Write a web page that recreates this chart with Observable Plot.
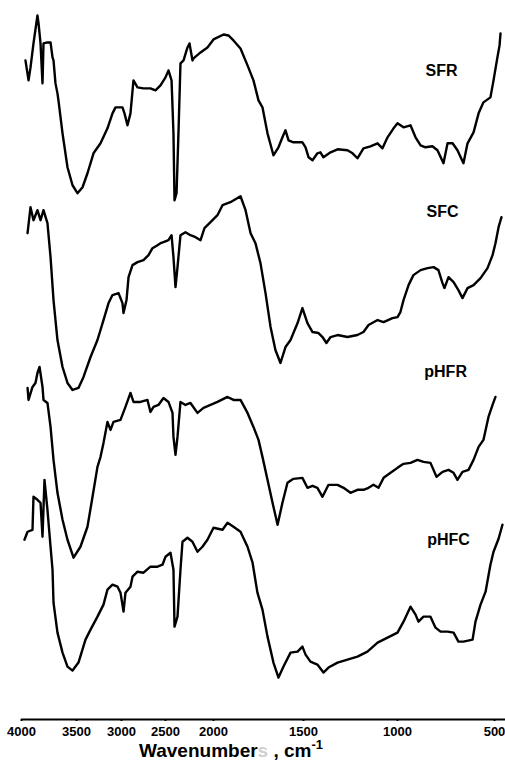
<!DOCTYPE html>
<html><head><meta charset="utf-8">
<script src="https://cdn.jsdelivr.net/npm/d3@7"></script>
<script src="https://cdn.jsdelivr.net/npm/@observablehq/plot@0.6"></script>
<style>
body{margin:0;background:#fff;}
#wrap{position:relative;width:505px;height:763px;font-family:"Liberation Sans",Arial,sans-serif;}
#xlabel{position:absolute;left:139px;top:741px;font-size:19px;font-weight:bold;line-height:19px;color:#000;white-space:nowrap;}
#xlabel .ghost{color:#d0d0d0;}
#xlabel sup{font-size:13px;line-height:0;position:relative;top:-1px;}
</style></head><body><div id="wrap"><div id="xlabel">Wavenumber<span class="ghost">s</span> , cm<sup>-1</sup></div></div>
<script>
const wavenumberTicks = [4000, 3500, 3000, 2500, 2000, 1500, 1000, 500];
const seriesNames = ["SFR", "SFC", "pHFR", "pHFC"];

// [wavenumber, transmittance (a.u., stacked)]
const SFR = [[3964,132],[3936,128],[3918,130.6],[3891,135.4],[3855,141],[3845,139.4],[3827,135.4],[3809,127.4],[3800,135.4],[3764,135.6],[3736,135.6],[3718,132.6],[3709,132],[3691,127.4],[3673,125.4],[3664,124],[3627,117.4],[3582,110.6],[3536,107],[3489,105.4],[3433,106.6],[3378,109.4],[3311,113.4],[3233,115.4],[3156,118.4],[3100,121.4],[3067,122.6],[2989,122.6],[2966,121.4],[2932,119],[2898,121.4],[2864,128],[2818,126.6],[2750,126.4],[2671,126.4],[2614,126],[2557,127],[2500,128.6],[2469,130],[2437,128],[2417,117.4],[2406,104],[2385,105.4],[2365,117.4],[2344,131.4],[2312,132],[2271,134.6],[2250,135.4],[2219,132],[2208,132.4],[2135,133.6],[2063,134.6],[2000,136.2],[1944,137.2],[1917,137],[1889,136],[1850,134.4],[1811,131],[1778,128],[1750,124],[1728,122.6],[1700,117.4],[1667,113],[1639,114.6],[1617,116.6],[1600,118],[1583,116],[1556,115.6],[1506,115.6],[1489,114.6],[1473,112.6],[1452,112],[1426,113.4],[1410,113.6],[1394,112.6],[1356,113.6],[1319,114.2],[1266,114],[1239,113.4],[1213,112.4],[1181,114.4],[1144,114.8],[1106,115.4],[1080,114.4],[1053,116.6],[1021,118.4],[1000,119.4],[969,118.6],[933,119],[907,116.6],[881,115],[856,114.6],[820,114.8],[794,114],[763,111.4],[742,115.4],[716,115.4],[691,114],[660,111.4],[639,115.4],[608,117.6],[582,121.4],[557,123.6],[521,124.6],[505,128],[485,132.6],[474,135],[469,137.4]];

const SFC = [[3945,97.4],[3918,102.6],[3891,100],[3855,102],[3827,100],[3800,102],[3764,99.4],[3736,92.6],[3709,84],[3673,76],[3627,70.6],[3582,67.4],[3536,66],[3478,66.4],[3422,68.6],[3344,72.6],[3267,76],[3200,80],[3144,83.4],[3100,85],[3033,85.4],[2989,83.4],[2977,81.4],[2943,84],[2920,88.6],[2875,91],[2818,91.6],[2750,92],[2693,93],[2648,94.4],[2591,95],[2557,95.4],[2523,95.6],[2469,96],[2437,97],[2417,92.6],[2396,86.6],[2375,90.6],[2344,97],[2292,97.6],[2240,97],[2187,96.6],[2135,96],[2094,98.4],[2031,99.6],[1978,101],[1950,103],[1906,103.6],[1850,104.8],[1822,102],[1794,97.4],[1767,95.4],[1739,91.4],[1711,85.4],[1683,78.6],[1656,74],[1628,71.4],[1600,74.6],[1572,76],[1533,79.4],[1506,82.4],[1479,79.4],[1452,77.6],[1420,77.4],[1399,76.6],[1378,75.4],[1356,76.6],[1319,77],[1266,76.6],[1213,77],[1181,77.6],[1154,79],[1106,80],[1074,79.6],[1027,80.4],[1000,80.6],[985,81.6],[969,84],[943,87],[918,89],[881,90],[845,90.4],[814,90.6],[789,90],[768,87.4],[758,86.4],[737,88.6],[711,87.6],[686,86],[665,84.4],[639,86.4],[608,87],[572,88.4],[536,90.4],[510,93],[495,95.4],[479,98.6],[464,100.6]];

const pHFR = [[3945,66.4],[3936,64],[3900,66.6],[3873,67.4],[3855,69.4],[3836,70.6],[3809,66.6],[3800,64],[3764,63.4],[3736,58.6],[3709,52],[3673,45.4],[3627,40],[3582,36],[3527,32.4],[3456,34.6],[3378,38.6],[3322,44.6],[3267,50.6],[3233,52.6],[3200,55.4],[3156,59.6],[3122,58],[3089,59.6],[3011,60],[2955,62.6],[2898,65.4],[2864,63.6],[2784,63.6],[2705,64],[2671,61.6],[2636,62.6],[2580,63],[2523,64.4],[2469,63.6],[2427,61.4],[2417,56.6],[2396,53],[2375,56.6],[2344,63.6],[2292,63],[2240,63.4],[2167,61.4],[2104,62.4],[2031,63],[1978,63.6],[1922,64.6],[1889,64],[1850,64],[1811,61.4],[1778,58.6],[1750,56],[1728,52.6],[1700,48],[1672,43.4],[1644,39],[1617,43.4],[1589,47.4],[1556,48.2],[1506,48.4],[1479,46.4],[1452,46.8],[1426,46.4],[1399,44.6],[1367,47],[1319,47],[1287,46.4],[1250,45.4],[1213,46],[1181,46],[1154,46.4],[1128,47],[1101,46.4],[1074,48.4],[1037,49.4],[1000,50.4],[969,51.2],[933,51.4],[897,52],[866,51.6],[830,51.4],[799,48.6],[768,49.6],[737,50],[711,49.4],[691,48],[665,49.6],[634,50],[608,52],[582,54.6],[557,56],[531,60.6],[510,63],[495,64.6]];

const pHFC = [[3973,36],[3945,37.6],[3900,38],[3891,44.6],[3855,44],[3827,43.4],[3809,36.6],[3791,48],[3764,42],[3736,34.6],[3718,30],[3709,23.4],[3673,17.4],[3627,13.4],[3582,10.6],[3536,9.8],[3478,11.4],[3400,16],[3344,18],[3267,20.6],[3200,23],[3156,26],[3100,27],[3044,26.6],[3011,25.4],[2977,21.6],[2955,25.4],[2898,26.6],[2875,28.6],[2818,29.6],[2750,29.4],[2671,30.6],[2591,30.6],[2534,31],[2500,32.6],[2448,33.4],[2417,30],[2406,18.6],[2375,20.6],[2344,30],[2323,35.6],[2271,36.4],[2219,35.6],[2167,33.6],[2115,34.6],[2063,36],[2000,38.4],[1950,38],[1922,39.4],[1889,38.6],[1850,37.6],[1811,34.6],[1783,31.4],[1756,25.4],[1728,22],[1700,16.6],[1667,11.4],[1639,8.4],[1611,10.6],[1572,13.4],[1533,13.6],[1506,14.6],[1489,13],[1463,11.6],[1426,11],[1394,9.4],[1367,10.4],[1319,11.4],[1266,12],[1213,12.6],[1160,13.6],[1106,15.4],[1053,16.4],[1000,17.4],[969,19.6],[933,22.6],[907,21],[892,19.6],[866,20.6],[830,20.6],[804,18.4],[778,17.6],[742,17.6],[711,17.4],[686,15.6],[660,15.6],[613,16],[598,19.6],[572,23],[546,25.6],[521,31],[505,33.6],[479,36.2],[459,39]];

// label anchors [wavenumber, value]
const labelWavenumbers = [773, 768, 752, 737];
const labelValues = [128.8, 100.6, 68.6, 35];

const spectra = [SFR, SFC, pHFR, pHFC];
const data = spectra.flatMap((pts, i) => pts.map(([wn, v]) => ({series: seriesNames[i], wn, v})));
const labels = seriesNames.map((name, i) => ({name, wn: labelWavenumbers[i], v: labelValues[i]}));

// the instrument's chart uses a different wavenumber spacing per segment (piecewise axis)
const segmentPositions = [21, 76, 121, 165, 213, 303, 397, 494];
const piecewise = d3.scaleLinear().domain(wavenumberTicks).range(segmentPositions);

const chart = Plot.plot({
  width: 505, height: 763,
  marginTop: 0, marginBottom: 44, marginLeft: 0, marginRight: 0,
  style: {fontFamily: "'Liberation Sans', Arial, sans-serif", background: "#fff", color: "#000", overflow: "visible"},
  x: {transform: (d) => piecewise(d), domain: [0, 505], range: [0, 505]},
  y: {domain: [0, 144], axis: null},
  marks: [
    Plot.line(data, {x: "wn", y: "v", z: "series", stroke: "#000", strokeWidth: 2.4, strokeLinejoin: "round"}),
    Plot.text(labels, {x: "wn", y: "v", text: "name", fontSize: 16, fontWeight: "bold", lineAnchor: "bottom", fill: "#000"}),
    Plot.ruleY([0], {x1: 4000, x2: 440, stroke: "#000", strokeWidth: 2}),
    Plot.axisX({
      ticks: wavenumberTicks.map((w) => piecewise(w)),
      tickFormat: (p) => String(Math.round(piecewise.invert(p))),
      tickSize: 2, tickPadding: 5, fontSize: 13, fontWeight: "bold", label: null, strokeWidth: 2
    })
  ]
});
document.getElementById("wrap").prepend(chart);
</script></body></html>
